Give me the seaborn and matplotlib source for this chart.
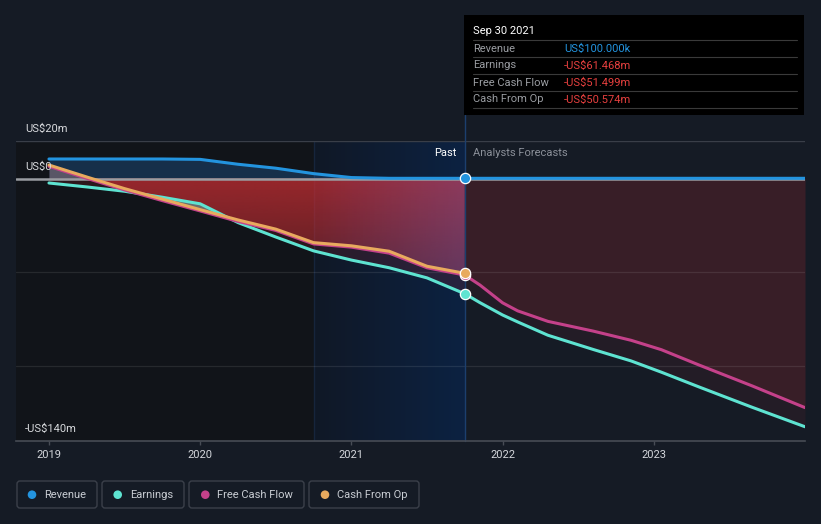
import numpy as np
import pandas as pd
import matplotlib
matplotlib.use("Agg")
import matplotlib.pyplot as plt
import seaborn as sns
from matplotlib.patches import Rectangle, FancyBboxPatch, Circle, PathPatch
from matplotlib.transforms import IdentityTransform

# ---------------- data (US$ millions, decimal years) ----------------
past_years = [2019.0, 2019.25, 2019.5, 2019.75, 2020.0, 2020.25, 2020.5, 2020.75,
              2021.0, 2021.25, 2021.5, 2021.75]
revenue_past = [10.4, 10.4, 10.4, 10.4, 10.2, 7.6, 5.5, 2.6, 0.5, 0.1, 0.1, 0.1]
earnings_past = [-2.4, -4.5, -6.8, -10.0, -13.5, -23.5, -31.2, -38.6, -43.5, -47.6, -53.0, -61.468]
fcf_past = [6.5, 0.1, -6.1, -11.8, -17.3, -22.9, -27.7, -34.9, -36.6, -39.8, -47.6, -51.499]
cfo_past = [7.2, 0.8, -5.4, -11.0, -16.6, -22.1, -27.0, -34.2, -35.9, -38.8, -46.8, -50.574]

fc_years = [2021.75, 2021.85, 2022.0, 2022.1, 2022.3, 2022.6, 2022.85, 2023.05, 2023.3,
            2023.65, 2024.0]
revenue_fc = [0.1, 0.1, 0.1, 0.1, 0.1, 0.1, 0.1, 0.1, 0.1, 0.1, 0.1]
earnings_fc = [-61.468, -66.2, -72.8, -76.5, -83.6, -91.2, -97.3, -103.3, -111.2, -122.0, -132.4]
fcf_fc = [-51.499, -56.8, -66.3, -70.6, -76.2, -81.4, -86.3, -91.3, -99.5, -110.6, -122.2]

series_names = ["Revenue", "Earnings", "Free Cash Flow", "Cash From Op"]
series_colors = ["#2394df", "#5ee3d1", "#c4418a", "#e8aa5e"]
year_ticks = [2019, 2020, 2021, 2022, 2023]
year_labels = ["2019", "2020", "2021", "2022", "2023"]
y_labels = {20: "US$20m", 0: "US$0", -140: "-US$140m"}
tooltip_title = "Sep 30 2021"
tooltip_rows = [("Revenue", "US$100.000k"), ("Earnings", "-US$61.468m"),
                ("Free Cash Flow", "-US$51.499m"), ("Cash From Op", "-US$50.574m")]
past_start, now = 2020.75, 2021.75

# ---------------- style ----------------
W, H = 821, 524
BG = "#151b25"
sns.set_style("dark")
plt.rcParams["font.family"] = ["Roboto", "DejaVu Sans"]

fig = plt.figure(figsize=(W / 100, H / 100), dpi=100, facecolor=BG)
ax = fig.add_axes([16 / W, 1 - 441 / H, 789 / W, 300 / H])
ax.set_facecolor(BG)
XMIN, XMAX, YMIN, YMAX = 2018.782, 2024.0, -140, 20

# dark past region and highlighted "past" band
ax.axvspan(XMIN, past_start, color="#111419", lw=0, zorder=0.1)
c0 = np.array([16, 24, 38]) / 255
c1 = np.array([12, 34, 66]) / 255
band = np.linspace(0, 1, 256)[None, :, None] * (c1 - c0) + c0
ax.imshow(band, extent=[past_start, now, YMIN, YMAX], aspect="auto", zorder=0.2)
ax.axvline(past_start, color="#16253c", lw=1, zorder=0.3)

red = np.array([200, 46, 51]) / 255
earn = np.array(earnings_past)
cfo = np.array(cfo_past)
upper_neg = np.minimum(0, np.maximum(cfo, earn))

# revenue fill
ax.fill_between(past_years, 0, revenue_past, color="#2370be", alpha=0.30, lw=0, zorder=1)
# positive CFO area
ax.fill_between(past_years, 0, cfo_past, where=cfo > 0, interpolate=True,
                color="#c89696", alpha=0.38, lw=0, zorder=1)
# red gradient loss area (past)
poly = ax.fill_between(past_years, 0, upper_neg, color="none", lw=0)
path = poly.get_paths()[0]
clip = PathPatch(path, transform=ax.transData, facecolor="none", edgecolor="none")
ax.add_patch(clip)
grad = np.zeros((256, 1, 4))
grad[..., :3] = red
grad[..., 3] = np.linspace(0.74, 0.34, 256)[:, None]
im = ax.imshow(grad, extent=[XMIN, now, -62, 0], aspect="auto", zorder=1, origin="upper")
im.set_clip_path(clip)
ov = np.zeros((1, 256, 4))
ov[..., :3] = np.array([125, 90, 165]) / 255
ov[..., 3] = np.linspace(0.0, 0.35, 256)[None, :]
im2 = ax.imshow(ov, extent=[past_start, now, -62, 0], aspect="auto", zorder=1.05)
im2.set_clip_path(clip)
# between CFO and earnings (past)
ax.fill_between(past_years, upper_neg, earnings_past, where=earn < upper_neg,
                interpolate=True, color=red, alpha=0.15, lw=0, zorder=1)
ax.fill_between(past_years, earnings_past, cfo_past, where=earn > cfo,
                interpolate=True, color="#a8a8a8", alpha=0.6, lw=0, zorder=1)
# forecast fills
ax.fill_between(fc_years, 0, fcf_fc, color=red, alpha=0.20, lw=0, zorder=1)
ax.fill_between(fc_years, fcf_fc, earnings_fc, color=red, alpha=0.08, lw=0, zorder=1)

# grid lines
ax.axhline(20, color="#393e48", lw=1, zorder=1.5)
for g in (-50, -100):
    ax.axhline(g, color="#ffffff", alpha=0.09, lw=0.9, zorder=1.5)
ax.axhline(0, color="#9a9da2", lw=1.8, zorder=1.6)
ax.axvline(now, ymin=0, ymax=(441 - 115) / 300, color="#1c3f6e", lw=1,
           clip_on=False, zorder=1.7)

# lines through seaborn
frames = []
for name, yrs, vals in [
    ("Revenue", past_years + fc_years[1:], revenue_past + revenue_fc[1:]),
    ("Earnings", past_years + fc_years[1:], earnings_past + earnings_fc[1:]),
    ("Free Cash Flow", past_years + fc_years[1:], fcf_past + fcf_fc[1:]),
    ("Cash From Op", past_years, cfo_past),
]:
    frames.append(pd.DataFrame({"year": yrs, "value": vals, "series": name}))
df = pd.concat(frames, ignore_index=True)
sns.lineplot(data=df, x="year", y="value", hue="series", hue_order=series_names,
             palette=dict(zip(series_names, series_colors)), estimator=None,
             legend=False, linewidth=2.2, ax=ax, zorder=2)
for ln in ax.lines:
    ln.set_solid_joinstyle("round")
    ln.set_solid_capstyle("round")

# markers at the current point
now_vals = [revenue_past[-1], earnings_past[-1], fcf_past[-1], cfo_past[-1]]
for v, c in zip(now_vals, series_colors):
    ax.scatter([now], [v], s=55, color=c, edgecolor="white", linewidth=0.9, zorder=4)

ax.set_xlim(XMIN, XMAX)
ax.set_ylim(YMIN, YMAX)
ax.set_xlabel("")
ax.set_ylabel("")
for s in ("top", "right", "left"):
    ax.spines[s].set_visible(False)
ax.spines["bottom"].set_color("#474c55")
ax.spines["bottom"].set_linewidth(1.2)
ax.set_yticks([])
ax.set_xticks(year_ticks)
ax.set_xticklabels(year_labels)
ax.tick_params(axis="x", length=3, width=1, color="#474c55", labelcolor="#d4d7dc",
               labelsize=8, pad=3.5, bottom=True)
ax.grid(False)

for val, lab in y_labels.items():
    ax.annotate(lab, xy=(0, val), xycoords=("axes fraction", "data"), xytext=(9, 12),
                textcoords="offset pixels", va="center", ha="left", color="#d8dadd",
                fontsize=8, zorder=5)

ax.annotate("Past", xy=(now, 20), xytext=(-8, -12), textcoords="offset pixels",
            ha="right", va="center", color="#ffffff", fontsize=8, zorder=5)
ax.annotate("Analysts Forecasts", xy=(now, 20), xytext=(8, -12), textcoords="offset pixels",
            ha="left", va="center", color="#8b9099", fontsize=8, zorder=5)

# ---------------- tooltip ----------------
T = IdentityTransform()
fig.add_artist(Rectangle((464, H - 115), 340, 100, transform=T, facecolor="#000000",
                         edgecolor="none", zorder=10))
fig.text(473, H - 31, tooltip_title, transform=T, color="#ffffff", fontsize=8,
         va="center", ha="left", zorder=11)
for yy in (40, 57, 74, 91, 108):
    fig.add_artist(plt.Line2D([473, 797], [H - yy, H - yy], transform=T, color="#3a3a3a",
                              lw=0.8, zorder=11))
for i, (lab, val) in enumerate(tooltip_rows):
    yc = H - (48.5 + 17 * i)
    fig.text(473, yc, lab, transform=T, color="#9a9da2", fontsize=8, va="center",
             ha="left", zorder=11)
    col = "#2394df" if i == 0 else "#e8403f"
    t = fig.text(564, yc, val, transform=T, color=col, fontsize=8, va="center",
                 ha="left", zorder=11)
    ax.annotate("/yr", xy=(1, 0.5), xycoords=t, xytext=(3, 0), textcoords="offset pixels",
                va="center", ha="left", color="#b4b7bc", fontsize=8, zorder=11,
                annotation_clip=False)

# ---------------- legend ----------------
boxes = [(17, 97), (102, 184), (189, 304), (309, 419)]
dots = [32, 117.7, 205.3, 325]
texts = [44.3, 130, 217.3, 337.3]
for (x0, x1), dx, tx, name, c in zip(boxes, dots, texts, series_names, series_colors):
    fig.add_artist(FancyBboxPatch((x0, H - 508), x1 - x0, 27, transform=T,
                                  boxstyle="round,pad=0,rounding_size=3",
                                  facecolor="none", edgecolor="#3b404a", lw=1, zorder=10))
    fig.add_artist(Circle((dx, H - 494.7), 4.3, transform=T, facecolor=c,
                          edgecolor="none", zorder=11))
    fig.text(tx, H - 494.7, name, transform=T, color="#c9cdd3", fontsize=8,
             va="center", ha="left", zorder=11)

fig.savefig("out.png", dpi=100, facecolor=BG)
